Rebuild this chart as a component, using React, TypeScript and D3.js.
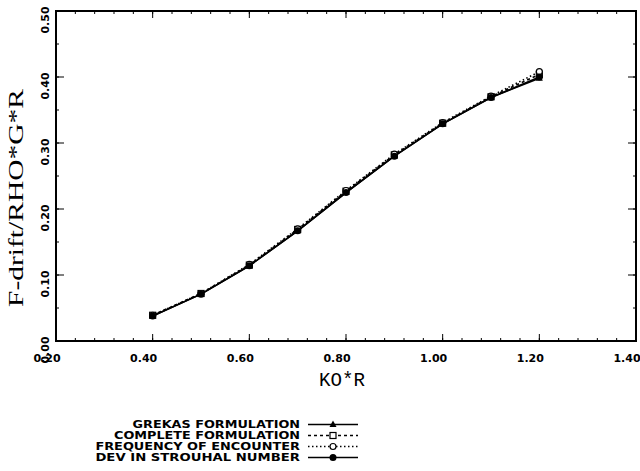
import React from 'react'
import * as d3 from 'd3'

const kr = [0.4, 0.5, 0.6, 0.7, 0.8, 0.9, 1.0, 1.1, 1.2]
const grekas = [0.038, 0.071, 0.114, 0.167, 0.225, 0.28, 0.329, 0.369, 0.398]
const complete = [0.039, 0.072, 0.115, 0.169, 0.227, 0.282, 0.33, 0.37, 0.404]
const frequency = [0.039, 0.072, 0.116, 0.17, 0.228, 0.283, 0.331, 0.371, 0.408]
const strouhal = [0.038, 0.071, 0.114, 0.167, 0.225, 0.28, 0.329, 0.369, 0.4]
const seriesNames = [
  'GREKAS FORMULATION',
  'COMPLETE FORMULATION',
  'FREQUENCY OF ENCOUNTER',
  'DEV IN STROUHAL NUMBER',
]

const width = 640
const height = 471
const margin = { left: 56, top: 11, right: 4, bottom: 130 }
const innerWidth = width - margin.left - margin.right
const innerHeight = height - margin.top - margin.bottom

const xScale = d3.scaleLinear().domain([0.2, 1.4]).range([0, innerWidth])
const yScale = d3.scaleLinear().domain([0, 0.5]).range([innerHeight, 0])
const fmt = d3.format('.2f')

const xMajor = xScale.ticks(6)
const xMinor = d3.range(0.2, 1.4001, 0.04)
const yMajor = yScale.ticks(5)
const yMinor = d3.range(0, 0.5001, 0.05)

const series = [
  { name: seriesNames[0], values: grekas, dash: null, marker: 'tri' },
  { name: seriesNames[1], values: complete, dash: '3,3', marker: 'square' },
  { name: seriesNames[2], values: frequency, dash: '1.5,2.5', marker: 'circle' },
  { name: seriesNames[3], values: strouhal, dash: null, marker: 'dot' },
]

const lineGen = d3
  .line<number>()
  .x((d, i) => xScale(kr[i]))
  .y(d => yScale(d))

function Marker({ type, x, y }: { type: string; x: number; y: number }) {
  if (type === 'tri') {
    return <path d={`M${x},${y - 4}L${x + 3.5},${y + 2.5}L${x - 3.5},${y + 2.5}Z`} fill="black" />
  }
  if (type === 'square') {
    return <rect x={x - 3} y={y - 3} width={6} height={6} fill="white" stroke="black" strokeWidth={1.2} />
  }
  if (type === 'circle') {
    return <circle cx={x} cy={y} r={3} fill="white" stroke="black" strokeWidth={1.2} />
  }
  return <circle cx={x} cy={y} r={3.5} fill="black" />
}

function Ticks() {
  return (
    <g stroke="black" strokeWidth={1}>
      {xMinor.map(t => (
        <g key={'xm' + t}>
          <line x1={xScale(t)} x2={xScale(t)} y1={innerHeight} y2={innerHeight - 3} />
          <line x1={xScale(t)} x2={xScale(t)} y1={0} y2={3} />
        </g>
      ))}
      {xMajor.map(t => (
        <g key={'xM' + t}>
          <line x1={xScale(t)} x2={xScale(t)} y1={innerHeight} y2={innerHeight - 7} />
          <line x1={xScale(t)} x2={xScale(t)} y1={0} y2={7} />
        </g>
      ))}
      {yMinor.map(t => (
        <g key={'ym' + t}>
          <line x1={0} x2={3} y1={yScale(t)} y2={yScale(t)} />
          <line x1={innerWidth} x2={innerWidth - 3} y1={yScale(t)} y2={yScale(t)} />
        </g>
      ))}
      {yMajor.map(t => (
        <g key={'yM' + t}>
          <line x1={0} x2={8} y1={yScale(t)} y2={yScale(t)} />
          <line x1={innerWidth} x2={innerWidth - 8} y1={yScale(t)} y2={yScale(t)} />
        </g>
      ))}
    </g>
  )
}

function TickLabels() {
  return (
    <g fontFamily="DejaVu Sans" fontWeight="bold" fontSize={11} fill="black">
      {xMajor.map(t => (
        <text key={'xl' + t} x={xScale(t) - 9} y={innerHeight + 21} textAnchor="middle">
          {fmt(t)}
        </text>
      ))}
      {yMajor.map(t => (
        <text
          key={'yl' + t}
          transform={`translate(-7, ${yScale(t) + 9}) rotate(-90)`}
          textAnchor="middle"
        >
          {fmt(t)}
        </text>
      ))}
    </g>
  )
}

function Legend() {
  const rowY = [428, 439, 450, 461]
  return (
    <g>
      {series.map((s, i) => (
        <g key={s.name}>
          <text
            x={300}
            y={rowY[i]}
            textAnchor="end"
            fontFamily="DejaVu Sans"
            fontWeight="bold"
            fontSize={10}
            textLength={s.name.length * 9.3}
            lengthAdjust="spacingAndGlyphs"
          >
            {s.name}
          </text>
          <line
            x1={308}
            x2={358}
            y1={rowY[i] - 3.5}
            y2={rowY[i] - 3.5}
            stroke="black"
            strokeWidth={1.5}
            strokeDasharray={s.dash || undefined}
          />
          <Marker type={s.marker} x={333} y={rowY[i] - 3.5} />
        </g>
      ))}
    </g>
  )
}

export default function App() {
  return (
    <svg width={width} height={height} style={{ position: 'absolute', left: 0, top: 0, background: 'white' }}>
      <g transform={`translate(${margin.left}, ${margin.top})`}>
        <rect x={0} y={0} width={innerWidth} height={innerHeight} fill="none" stroke="black" strokeWidth={2} />
        <Ticks />
        <TickLabels />
        {series.map(s => (
          <g key={s.name}>
            <path
              d={lineGen(s.values) || ''}
              fill="none"
              stroke="black"
              strokeWidth={1.6}
              strokeDasharray={s.dash || undefined}
            />
            {s.values.map((v, i) => (
              <Marker key={i} type={s.marker} x={xScale(kr[i])} y={yScale(v)} />
            ))}
          </g>
        ))}
        <text
          x={xScale(0.8) - 4}
          y={innerHeight + 45}
          textAnchor="middle"
          fontFamily="Liberation Mono"
          fontSize={20}
          textLength={46}
          lengthAdjust="spacingAndGlyphs"
        >
          KO*R
        </text>
        <text
          transform={`translate(-33, ${innerHeight / 2 + 22}) rotate(-90)`}
          textAnchor="middle"
          fontFamily="Liberation Serif"
          fontSize={20}
          textLength={218}
          lengthAdjust="spacingAndGlyphs"
        >
          F-drift/RHO*G*R
        </text>
      </g>
      <Legend />
    </svg>
  )
}
